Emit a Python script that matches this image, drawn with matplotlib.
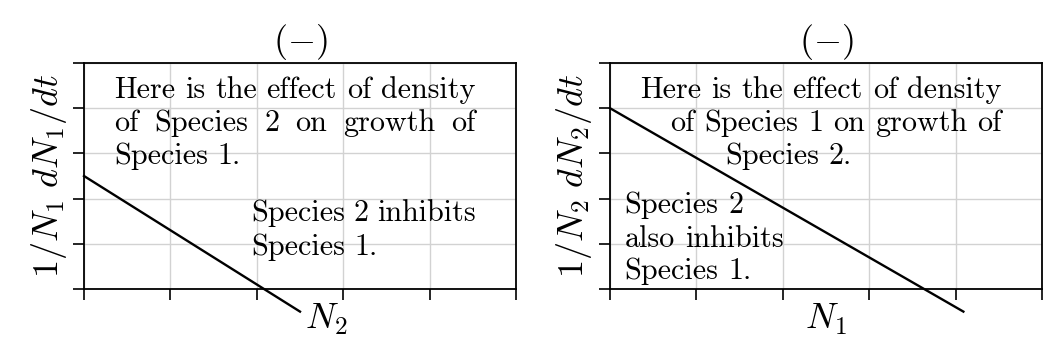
import matplotlib
matplotlib.use("Agg")
import matplotlib.pyplot as plt

plt.rcParams["mathtext.fontset"] = "cm"
plt.rcParams["font.family"] = "serif"
plt.rcParams["font.serif"] = ["cmr10"]
plt.rcParams["axes.unicode_minus"] = False

# Line endpoints for each panel (x, y)
left_x = [0, 2.5]
left_y = [2.5, -0.5]
right_x = [0, 4.09]
right_y = [4.0, -0.5]

ticks = [0, 1, 2, 3, 4, 5]

FS = 21.7    # body text
TFS = 26     # panel titles
LFS = 26     # axis labels

fig = plt.figure(figsize=(10.6, 3.48), dpi=100)
ax1 = fig.add_axes([84 / 1060, 59 / 348, 432 / 1060, 226 / 348])
ax2 = fig.add_axes([610 / 1060, 59 / 348, 432 / 1060, 226 / 348])


def style(ax):
    ax.set_xlim(0, 5)
    ax.set_ylim(0, 5)
    ax.set_xticks(ticks)
    ax.set_yticks(ticks)
    ax.set_xticklabels([])
    ax.set_yticklabels([])
    ax.grid(True, color="#d2d2d2", linewidth=1.0)
    ax.set_axisbelow(True)
    for s in ax.spines.values():
        s.set_linewidth(1.3)
    ax.tick_params(direction="out", length=8, width=1.2)
    ax.set_title("$(-)$", fontsize=TFS, pad=9)


style(ax1)
style(ax2)

ax1.plot(left_x, left_y, color="black", linewidth=1.7, clip_on=False)
ax2.plot(right_x, right_y, color="black", linewidth=1.7, clip_on=False)

ax1.set_xlabel("$N_2$", fontsize=LFS)
ax1.xaxis.set_label_coords(0.56, -0.055)
ax2.set_xlabel("$N_1$", fontsize=LFS)
ax2.xaxis.set_label_coords(0.5, -0.055)
ax1.set_ylabel("$1/N_1\\ dN_1/dt$", fontsize=LFS)
ax1.yaxis.set_label_coords(-0.035, 0.5)
ax2.set_ylabel("$1/N_2\\ dN_2/dt$", fontsize=LFS)
ax2.yaxis.set_label_coords(-0.038, 0.5)

renderer = fig.canvas.get_renderer()


def put_line(ax, line, x0, y, x1=None, align="left"):
    words = line.split(" ")
    texts = [ax.text(x0, y, w, fontsize=FS, va="baseline") for w in words]
    widths = [t.get_window_extent(renderer).width for t in texts]
    px0 = ax.transData.transform((x0, y))[0]
    space = FS * 100 / 72 * 0.333
    gap = space
    if x1 is not None:
        px1 = ax.transData.transform((x1, y))[0]
        if align == "right":
            px0 = px1 - sum(widths) - gap * (len(words) - 1)
        else:
            gap = (px1 - px0 - sum(widths)) / max(len(words) - 1, 1)
    inv = ax.transData.inverted()
    x = px0
    for t, w in zip(texts, widths):
        t.set_x(inv.transform((x, 0))[0])
        x += w + gap


# left panel text
put_line(ax1, "Here is the effect of density", 0.347, 4.23, 4.53)
put_line(ax1, "of Species 2 on growth of", 0.347, 3.49, 4.53)
put_line(ax1, "Species 1.", 0.347, 2.77)
put_line(ax1, "Species 2 inhibits", 1.93, 1.50, 4.53)
put_line(ax1, "Species 1.", 1.93, 0.76)

# right panel text
put_line(ax2, "Here is the effect of density", 0.347, 4.23, 4.53)
put_line(ax2, "of Species 1 on growth of", 0.69, 3.49, 4.53, align="right")
put_line(ax2, "Species 2.", 1.33, 2.77)
put_line(ax2, "Species 2", 0.17, 1.68)
put_line(ax2, "also inhibits", 0.17, 0.94)
put_line(ax2, "Species 1.", 0.17, 0.22)

fig.savefig("out.png", dpi=100)
